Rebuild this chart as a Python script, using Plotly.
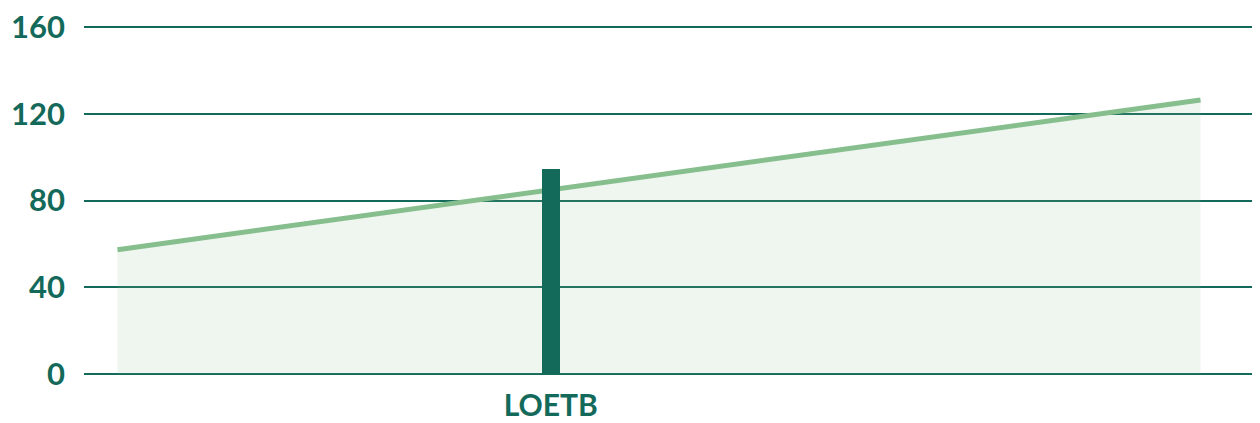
import plotly.graph_objects as go

# ---- data ----
categories = ["LOETB"]
bar_values = [94.5]
trend_values = [57.3, 126.4]
y_ticks = [0, 40, 80, 120, 160]

# layout / style (not data)
trend_x = [-0.4, 0.6]
x_range = [-0.4309, 0.6494]
y_range = [-0.5, 160.5]
dark = "#13695a"
light = "#86bf8d"

fig = go.Figure()

fig.add_trace(go.Scatter(
    x=trend_x, y=trend_values, mode="lines",
    line=dict(color=light, width=5),
    fill="tozeroy", fillcolor="rgba(134,191,141,0.14)",
    xaxis="x", yaxis="y", showlegend=False, hoverinfo="skip",
))

fig.add_trace(go.Bar(
    x=categories, y=bar_values, width=0.0169,
    marker=dict(color=dark, line=dict(width=0)),
    xaxis="x2", yaxis="y2", showlegend=False,
))

font = dict(family="Lato", size=31, color=dark, weight="bold")
xfont = dict(family="Lato", size=30, color=dark, weight="bold")

# the page body adds an 8px margin, so the figure is sized to fit inside it
fig.update_layout(
    width=1252, height=415,
    margin=dict(l=76, r=6, t=18, b=48, autoexpand=False),
    paper_bgcolor="white", plot_bgcolor="rgba(0,0,0,0)",
    xaxis=dict(
        range=x_range, tickvals=[0], ticktext=categories, automargin=False,
        showgrid=False, zeroline=False, showline=False,
        tickfont=xfont, ticks="", ticklabelstandoff=10,
        ticklabeloverflow="allow",
    ),
    yaxis=dict(
        range=y_range, tickvals=y_ticks, automargin=False,
        showgrid=True, gridcolor=dark, gridwidth=1.5,
        zeroline=True, zerolinecolor=dark, zerolinewidth=1.5,
        showline=False, tickfont=font, ticks="", ticklabelstandoff=18,
        ticklabeloverflow="allow",
    ),
    xaxis2=dict(
        type="category", range=x_range, overlaying="x",
        visible=False, showgrid=False,
    ),
    yaxis2=dict(
        range=y_range, overlaying="y", visible=False, showgrid=False,
        zeroline=False,
    ),
    bargap=0,
)

fig.write_html("out.html")
